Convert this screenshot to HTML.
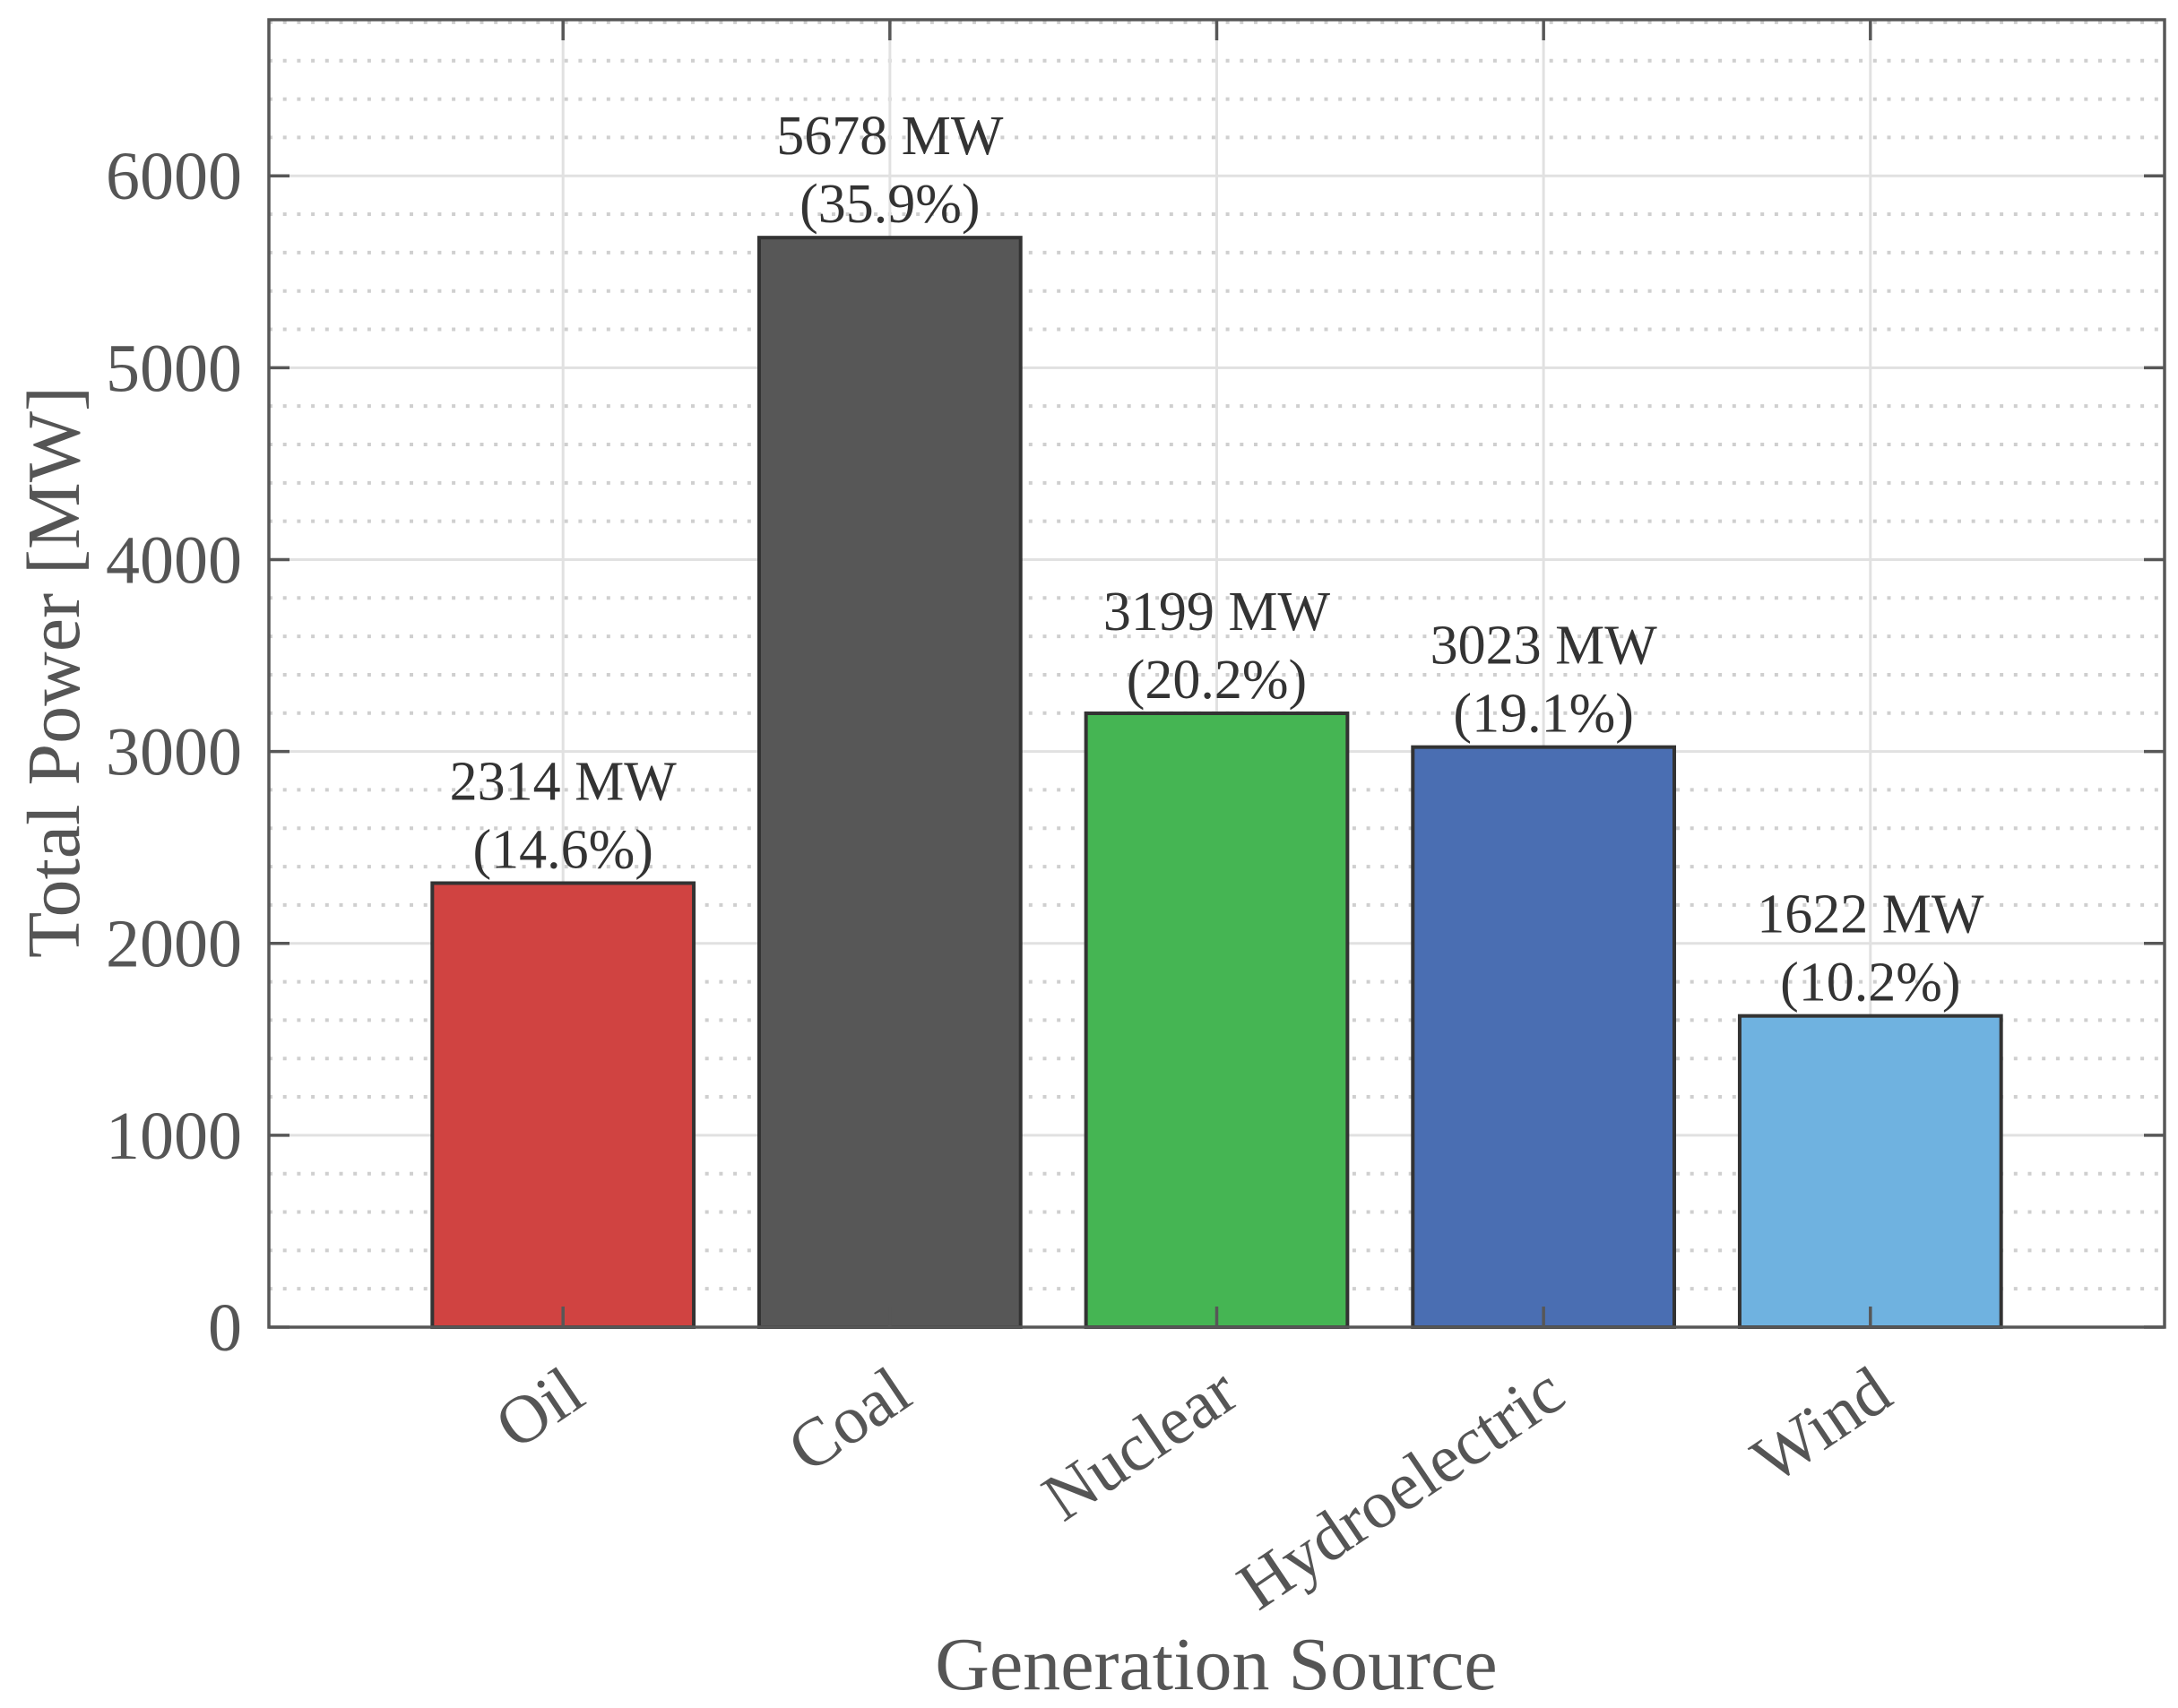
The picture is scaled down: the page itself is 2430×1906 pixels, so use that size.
<!DOCTYPE html>
<html><head><meta charset="utf-8"><style>
html,body{margin:0;padding:0;background:#fff;}
svg{display:block;}
text{font-family:"Liberation Serif",serif;}
</style></head>
<body>
<svg id="chart" width="2430" height="1906" viewBox="0 0 2430 1906" xmlns="http://www.w3.org/2000/svg">
<rect x="0" y="0" width="2430" height="1906" fill="#fff"/>
<g id="grid"></g>
<g id="bars"></g>
<g id="axes"></g>
<g id="labels"></g>
<text transform="translate(88,750) rotate(-90)" text-anchor="middle" font-size="84" fill="#555">Total Power [MW]</text>
<text x="1357" y="1885" text-anchor="middle" font-size="84" fill="#555">Generation Source</text>
</svg>
<script>
const categories = ["Oil", "Coal", "Nuclear", "Hydroelectric", "Wind"];
const values = [2314, 5678, 3199, 3023, 1622];
const percents = ["14.6%", "35.9%", "20.2%", "19.1%", "10.2%"];
const colors = ["#D04341", "#575757", "#45B553", "#4A6EB2", "#6FB2E0"];
const yTicks = [0, 1000, 2000, 3000, 4000, 5000, 6000];

const NS = "http://www.w3.org/2000/svg";
const L = 300, R = 2415, T = 22, B = 1481;
const xMin = 0.1, xMax = 5.9;
const yMax = 1.2 * Math.max(...values);
const xs = v => L + (v - xMin) / (xMax - xMin) * (R - L);
const ys = v => B - v / yMax * (B - T);
function mk(tag, attrs, parent) {
  const e = document.createElementNS(NS, tag);
  for (const k in attrs) e.setAttribute(k, attrs[k]);
  parent.appendChild(e);
  return e;
}
const grid = document.getElementById("grid");
const bars = document.getElementById("bars");
const axes = document.getElementById("axes");
const labels = document.getElementById("labels");

for (let v = 200; v < yMax; v += 200) {
  if (v % 1000 === 0) continue;
  const ln = mk("line", {x1: L, x2: R, y1: ys(v), y2: ys(v), stroke: "#cfcfcf", "stroke-width": 4, "stroke-dasharray": "4 11.7"}, grid);
  
  
}
yTicks.forEach(v => {
  if (v === 0) return;
  const ln = mk("line", {x1: L, x2: R, y1: ys(v), y2: ys(v), stroke: "#e1e1e1", "stroke-width": 3}, grid);
  
  
});
categories.forEach((c, i) => {
  const x = xs(i + 1);
  const ln = mk("line", {x1: x, x2: x, y1: T, y2: B, stroke: "#e1e1e1", "stroke-width": 3}, grid);
  
  
});

const bw = 0.8 * (xs(2) - xs(1));
categories.forEach((c, i) => {
  const cx = xs(i + 1);
  const r = mk("rect", {x: cx - bw / 2, y: ys(values[i]), width: bw, height: B - ys(values[i]), fill: colors[i], stroke: "#333", "stroke-width": 4}, bars);
  
  
  const t1 = mk("text", {x: cx, y: ys(values[i]) - 93, "text-anchor": "middle", "font-size": 62, fill: "#333"}, labels);
  t1.textContent = values[i] + " MW";
  
  
  const t2 = mk("text", {x: cx, y: ys(values[i]) - 17, "text-anchor": "middle", "font-size": 62, fill: "#333"}, labels);
  t2.textContent = "(" + percents[i] + ")";
  
  
  const tb = mk("line", {x1: cx, x2: cx, y1: B, y2: B - 23, stroke: "#575757", "stroke-width": 3.5}, axes);
  
  
  const tt = mk("line", {x1: cx, x2: cx, y1: T, y2: T + 23, stroke: "#575757", "stroke-width": 3.5}, axes);
  
  
  const cl = mk("text", {transform: "translate(" + (cx + 28) + ",1565) rotate(-34)", "text-anchor": "end", "font-size": 76, fill: "#555"}, axes);
  cl.textContent = c;
  
  
});

yTicks.forEach(v => {
  const y = ys(v);
  const a = mk("line", {x1: L, x2: L + 23, y1: y, y2: y, stroke: "#575757", "stroke-width": 3.5}, axes);
  
  
  const b = mk("line", {x1: R, x2: R - 23, y1: y, y2: y, stroke: "#575757", "stroke-width": 3.5}, axes);
  
  
  const t = mk("text", {x: 270, y: y + 26, "text-anchor": "end", "font-size": 76, fill: "#555"}, axes);
  t.textContent = v;
  
  
});

const box = mk("rect", {x: L, y: T, width: R - L, height: B - T, fill: "none", stroke: "#575757", "stroke-width": 3.5}, axes);


</script>
</body></html>
